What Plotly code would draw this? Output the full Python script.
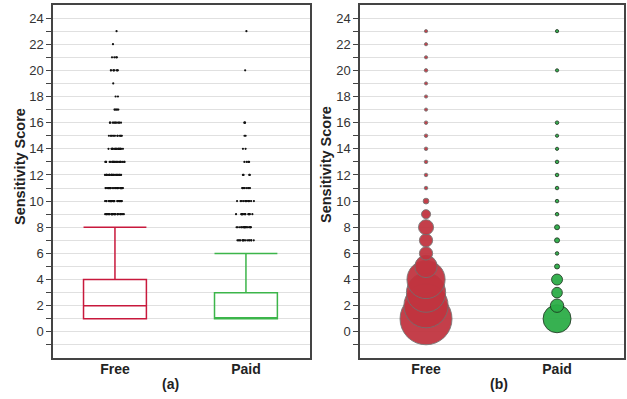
import numpy as np
import plotly.graph_objects as go

# ---- data ----
categories = ["Free", "Paid"]
scores = list(range(1, 24))
# apps per sensitivity score (bubble sizes in panel b)
free_counts = [650, 470, 370, 350, 120, 42, 42, 55, 20, 8, 3, 3, 3, 3, 3, 3, 2, 2, 1, 3, 2, 1, 1]
paid_counts = [188, 43, 27, 29, 6, 3, 6, 6, 3, 3, 3, 3, 3, 2, 2, 3, 0, 0, 0, 1, 0, 0, 1]
# outlier dots drawn per score in panel a
free_outlier_dots = [0, 0, 0, 0, 0, 0, 0, 0, 25, 25, 25, 20, 20, 20, 12, 10, 5, 2, 1, 8, 4, 1, 1]
paid_outlier_dots = [0, 0, 0, 0, 0, 0, 15, 20, 15, 12, 8, 4, 4, 2, 2, 3, 0, 0, 0, 1, 0, 0, 1]
y_tick_values = list(range(-1, 25))
y_tick_labels = [str(v) if v % 2 == 0 else "" for v in y_tick_values]
y_title = "Sensitivity Score"
panel_labels = ["(a)", "(b)"]

free_raw = np.repeat(scores, free_counts)
paid_raw = np.repeat(scores, paid_counts)
free_out = np.repeat(scores, free_outlier_dots)
paid_out = np.repeat(scores, paid_outlier_dots)

FREE_LINE = "#c8193c"
PAID_LINE = "#3cb54a"
FREE_BUB = "#c1343f"
PAID_BUB = "#2bad47"
W, H = 627, 399

fig = go.Figure()

# ---- (a) box plots ----
for name, raw, out, col in [("Free", free_raw, free_out, FREE_LINE),
                            ("Paid", paid_raw, paid_out, PAID_LINE)]:
    fig.add_trace(go.Box(
        x=[name] * len(raw), y=raw, name=name,
        boxpoints="outliers", width=0.48, whiskerwidth=1,
        fillcolor="rgba(255,255,255,0)",
        line=dict(color=col, width=1.5),
        marker=dict(color="rgba(0,0,0,0)", size=1, opacity=0),
        xaxis="x", yaxis="y", showlegend=False, offsetgroup="a",
    ))
    fig.add_trace(go.Box(
        x=[name] * len(out), y=out, name=name,
        boxpoints="all", jitter=0.32, pointpos=0, width=0.48,
        fillcolor="rgba(255,255,255,0)",
        line=dict(color="rgba(0,0,0,0)", width=0),
        marker=dict(color="#111111", size=2.2),
        xaxis="x", yaxis="y", showlegend=False, offsetgroup="a",
    ))

# ---- (b) bubble plot ----
sizeref = 2 * max(free_counts) / 52 ** 2
for name, counts, col, lc in [("Free", free_counts, FREE_BUB, "#707070"),
                              ("Paid", paid_counts, PAID_BUB, "#1c331e")]:
    ys = [s for s, c in zip(scores, counts) if c > 0]
    cs = [c for c in counts if c > 0]
    fig.add_trace(go.Scatter(
        x=[name] * len(ys), y=ys, mode="markers",
        marker=dict(size=cs, sizemode="area", sizeref=sizeref, sizemin=1.6,
                    color=col, opacity=0.94, line=dict(color=lc, width=0.9)),
        xaxis="x2", yaxis="y2", showlegend=False,
    ))

ydom = [1 - 358 / H, 1 - 5 / H]
font_fam = "Liberation Sans, Arial, sans-serif"

def xaxis_cfg(dom, rng, anchor):
    return dict(domain=dom, anchor=anchor, type="category", categoryorder="array", categoryarray=categories,
                range=rng, showline=True, linecolor="#444444", linewidth=1.5, mirror=True,
                showgrid=False, ticks="", ticklabelstandoff=-3,
                tickfont=dict(family=font_fam, size=14, color="#222", weight="bold"),
                zeroline=False)

def yaxis_cfg(anchor):
    return dict(domain=ydom, anchor=anchor, range=[-2, 25], tickmode="array",
                tickvals=y_tick_values, ticktext=y_tick_labels,
                ticks="outside", ticklen=5, tickcolor="#444", tickwidth=1,
                showline=True, linecolor="#444444", linewidth=1.5, mirror=True,
                showgrid=True, gridcolor="#e0e0e0", gridwidth=1.3, zeroline=False,
                tickfont=dict(family=font_fam, size=13, color="#333"))

txt_font = dict(family=font_fam, size=14, color="#222", weight="bold")
annotations = [
    dict(text=panel_labels[0], x=170 / W, y=1 - 384 / H),
    dict(text=panel_labels[1], x=499 / W, y=1 - 384 / H),
    dict(text=y_title, x=20 / W, y=1 - 167 / H, textangle=-90, font=dict(txt_font, size=14.5)),
    dict(text=y_title, x=326 / W, y=1 - 165 / H, textangle=-90, font=dict(txt_font, size=14.5)),
]
for a in annotations:
    a.update(xref="paper", yref="paper", xanchor="center", yanchor="middle", showarrow=False)
    a.setdefault("font", txt_font)

fig.update_layout(
    width=W, height=H, margin=dict(l=0, r=0, t=0, b=0),
    paper_bgcolor="white", plot_bgcolor="white", boxmode="overlay",
    xaxis=xaxis_cfg([53 / W, 310 / W], [-0.473, 1.489], "y"),
    yaxis=yaxis_cfg("x"),
    xaxis2=xaxis_cfg([360 / W, 624 / W], [-0.504, 1.511], "y2"),
    yaxis2=yaxis_cfg("x2"),
    annotations=annotations,
)

fig.write_html("out.html")
